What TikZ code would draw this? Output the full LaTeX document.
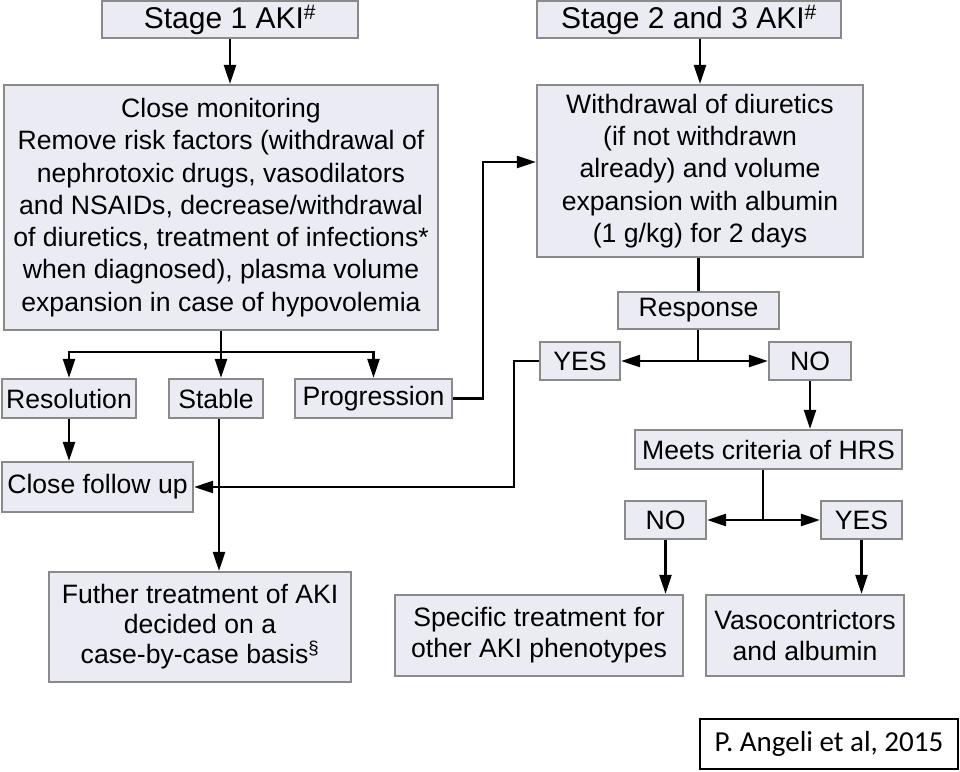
\documentclass[tikz,border=0pt]{standalone}
\usepackage{fontspec}
\setmainfont{Liberation Sans}
\newfontfamily\reffont{Carlito}
\usetikzlibrary{arrows.meta}
\definecolor{boxfill}{HTML}{EBEBF3}
\definecolor{boxline}{HTML}{8A8A8A}
\tikzset{
  box/.style={draw=boxline, fill=boxfill, line width=2.2pt, rectangle, inner sep=0pt,
              align=center, font=\fontsize{26.6}{32.3}\selectfont},
  head/.style={box, font=\fontsize{30}{34}\selectfont},
  conn/.style={draw=black, line width=2.3pt},
  arr/.style={conn, -{Triangle[length=19pt,width=12pt]}},
}
\begin{document}
\begin{tikzpicture}[x=1pt,y=-1pt]
\useasboundingbox (0,0) rectangle (960,771);
% nodes
\node[head, minimum width=256pt, minimum height=37pt] (s1) at (230,19.5) {Stage 1 AKI\textsuperscript{\#}};
\node[head, minimum width=304pt, minimum height=37pt] (s23) at (689,19.5) {Stage 2 and 3 AKI\textsuperscript{\#}};
\node[box, minimum width=434pt, minimum height=245pt] (mon) at (221,207.5) {Close monitoring\\Remove risk factors (withdrawal of\\nephrotoxic drugs, vasodilators\\and NSAIDs, decrease/withdrawal\\of diuretics, treatment of infections*\\when diagnosed), plasma volume\\expansion in case of hypovolemia};
\node[box, minimum width=326pt, minimum height=172pt] (wd) at (700,171) {Withdrawal of diuretics\\(if not withdrawn\\already) and volume\\expansion with albumin\\(1 g/kg) for 2 days};
\node[box, minimum width=161pt, minimum height=37pt] (resp) at (698.5,310.5) {Response};
\node[box, minimum width=80pt, minimum height=38pt] (yes1) at (580,361) {YES};
\node[box, minimum width=82pt, minimum height=38pt] (no1) at (810,361) {NO};
\node[box, minimum width=267pt, minimum height=39pt] (hrs) at (768.5,449.5) {Meets criteria of HRS};
\node[box, minimum width=81pt, minimum height=38pt] (no2) at (665.5,520) {NO};
\node[box, minimum width=81pt, minimum height=38pt] (yes2) at (861.5,520) {YES};
\node[box, minimum width=288pt, minimum height=81pt, font=\fontsize{26.6}{31}\selectfont] (spec) at (539,635.5) {Specific treatment for\\other AKI phenotypes};
\node[box, minimum width=198pt, minimum height=81pt, font=\fontsize{26.6}{31}\selectfont] (vaso) at (805,635.5) {Vasocontrictors\\and albumin};
\node[box, minimum width=134pt, minimum height=39pt] (res) at (69,398.5) {Resolution};
\node[box, minimum width=94pt, minimum height=39pt] (stab) at (216,398.5) {Stable};
\node[box, minimum width=157pt, minimum height=39pt] (prog) at (373.5,398.5) {Progression};
\node[box, minimum width=191pt, minimum height=50pt] (cfu) at (97.5,487) {Close follow up};
\node[box, minimum width=302pt, minimum height=110pt, font=\fontsize{26.6}{30}\selectfont] (fut) at (200,627) {Futher treatment of AKI\\decided on a\\case-by-case basis\textsuperscript{\S}};
\node[draw=black, line width=1.2pt, fill=white, minimum width=258pt, minimum height=50pt, inner sep=0pt, font=\reffont\fontsize{29}{34}\selectfont] (ref) at (829,744) {P. Angeli et al, 2015};
% helper coordinates
\coordinate (j1) at (221,352);
\coordinate (j2) at (698,361);
\coordinate (j3) at (763,520);
\coordinate (pk) at (483,162);
\coordinate (yk) at (514,361);
\coordinate (sx) at (219,0);
% connectors
\draw[arr] (s1.south) -- (s1.south |- mon.north);
\draw[arr] (wd.north |- s23.south) -- (wd.north);
\draw[conn] (mon.south -| j1) -- (j1);
\draw[arr] (j1) -- (j1 |- stab.north);
\draw[arr] (j1) -| (res.north);
\draw[arr] (j1) -| (prog.north);
\draw[arr] (res.south) -- (res.south |- cfu.north);
\draw[arr] (sx |- stab.south) -- (sx |- fut.north);
\draw[arr] (prog.east) -| (pk) -- (pk -| wd.west);
\draw[conn] (resp.north |- wd.south) -- (resp.north);
\draw[conn] (resp.south -| j2) -- (j2);
\draw[arr] (j2) -- (yes1.east);
\draw[arr] (j2) -- (no1.west);
\draw[arr] (yes1.west) -- (yk) |- (cfu.east);
\draw[arr] (no1.south) -- (no1.south |- hrs.north);
\draw[conn] (j3 |- hrs.south) -- (j3);
\draw[arr] (j3) -- (no2.east);
\draw[arr] (j3) -- (yes2.west);
\draw[arr] (no2.south) -- (no2.south |- spec.north);
\draw[arr] (yes2.south) -- (yes2.south |- vaso.north);
\end{tikzpicture}
\end{document}
